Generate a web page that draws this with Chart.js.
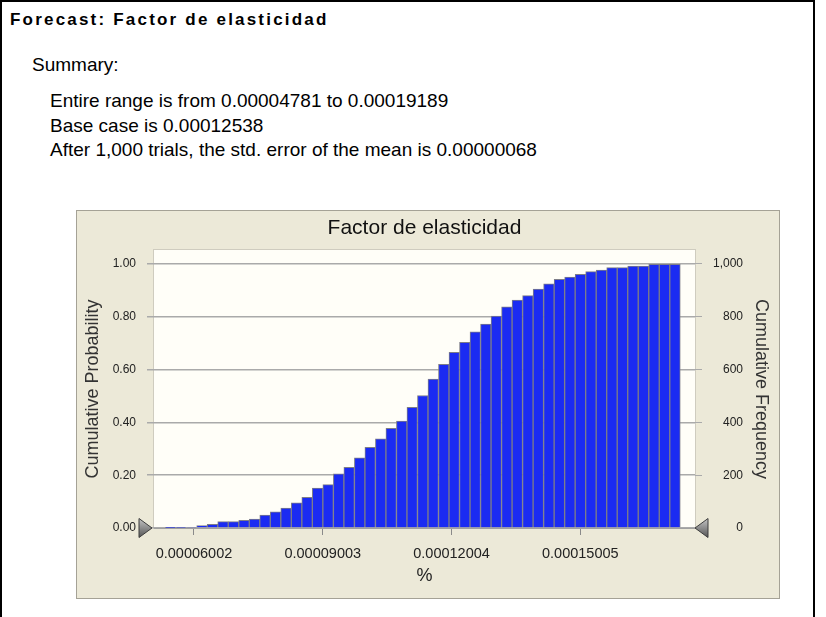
<!DOCTYPE html>
<html>
<head>
<meta charset="utf-8">
<title>Forecast: Factor de elasticidad</title>
<script src="https://cdn.jsdelivr.net/npm/chart.js@4.4.1/dist/chart.umd.min.js"></script>
<style>
  body { margin: 0; background: #fff; font-family: "Liberation Sans", Arial, sans-serif; }
  .frame { position: absolute; left: 0; top: 0; width: 811px; height: 640px; border: 2px solid #000; }
  .txt { position: absolute; white-space: nowrap; color: #000; font-size: 19px; line-height: 19px; }
  .heading { left: 10px; top: 11px; font-size: 17px; line-height: 17px; font-weight: bold; letter-spacing: 2.2px; }
  .chart-box { position: absolute; left: 76px; top: 210px; width: 702px; height: 387px;
               border: 1px solid #a5a296; background: #ece9d8; }
  .chart-box canvas { position: absolute; left: 0; top: 0; }
</style>
</head>
<body>
<div class="frame"></div>
<div class="txt heading">Forecast: Factor de elasticidad</div>
<div class="txt" style="left:32px; top:55px;">Summary:</div>
<div class="txt" style="left:50px; top:91px;">Entire range is from 0.00004781 to 0.00019189</div>
<div class="txt" style="left:50px; top:116px;">Base case is 0.00012538</div>
<div class="txt" style="left:50px; top:140px;">After 1,000 trials, the std. error of the mean is 0.00000068</div>

<div class="chart-box">
  <canvas id="forecastChart" width="702" height="387"></canvas>
</div>

<script>
// histogram bins (value of the forecast, %)
const binStart = 0.0000533;
const binWidth = 0.00000245;

// cumulative probability of each bin, 1,000 trials
const cumProb = [
  0.001, 0.002, 0.003, 0.009, 0.014, 0.024, 0.024, 0.029, 0.034, 0.049,
  0.061, 0.075, 0.095, 0.116, 0.151, 0.164, 0.205, 0.230, 0.266, 0.306,
  0.338, 0.378, 0.405, 0.457, 0.502, 0.564, 0.620, 0.665, 0.703, 0.743,
  0.772, 0.803, 0.838, 0.863, 0.880, 0.905, 0.925, 0.942, 0.950, 0.961,
  0.971, 0.977, 0.986, 0.986, 0.992, 0.992, 0.999, 0.999, 0.999
];

// axis ticks
const xTickValues = [0.00006002, 0.00009003, 0.00012004, 0.00015005];
const xTickLabels = ['0.00006002', '0.00009003', '0.00012004', '0.00015005'];
const probTicks = [0, 0.2, 0.4, 0.6, 0.8, 1.0];
const freqTicks = [0, 200, 400, 600, 800, 1000];
const trials = 1000;

const binMids = cumProb.map((p, i) => binStart + (i + 0.5) * binWidth);

Chart.defaults.font.family = '"Liberation Sans", Arial, sans-serif';
Chart.defaults.color = '#222';

// draws a grey certainty grabber triangle pointing at (tipX, tipY)
function drawGrabber(ctx, tipX, tipY, dir) {
  const w = 13, h = 9.5;
  const baseX = tipX - dir * w;
  const grad = ctx.createLinearGradient(0, tipY - h, 0, tipY + h);
  grad.addColorStop(0, '#c4c4c4');
  grad.addColorStop(1, '#555');
  ctx.beginPath();
  ctx.moveTo(tipX, tipY);
  ctx.lineTo(baseX, tipY - h);
  ctx.lineTo(baseX, tipY + h);
  ctx.closePath();
  ctx.fillStyle = grad;
  ctx.fill();
  ctx.strokeStyle = '#3c3c3c';
  ctx.lineWidth = 1;
  ctx.stroke();
}

// plot background and the grabbers on the base line
const plotFrame = {
  id: 'plotFrame',
  beforeDraw(chart) {
    const {ctx, chartArea: a} = chart;
    ctx.save();
    ctx.fillStyle = '#fffef8';
    ctx.fillRect(a.left, a.top, a.right - a.left, a.bottom - a.top);
    ctx.strokeStyle = '#cfccbf';
    ctx.lineWidth = 1;
    ctx.strokeRect(a.left - 0.5, a.top - 0.5, a.right - a.left + 1, a.bottom - a.top + 1);
    ctx.restore();
  },
  afterDraw(chart) {
    const {ctx, chartArea: a, scales} = chart;
    const y0 = scales.yProb.getPixelForValue(0);
    ctx.save();
    drawGrabber(ctx, a.left - 2, y0, 1);
    drawGrabber(ctx, a.right, y0, -1);
    ctx.restore();
  }
};

const ctx = document.getElementById('forecastChart');
new Chart(ctx, {
  type: 'bar',
  data: {
    datasets: [{
      label: 'Cumulative Probability',
      data: cumProb.map((p, i) => ({x: binMids[i], y: p})),
      xAxisID: 'x',
      yAxisID: 'yProb',
      backgroundColor: '#1b2bf2',
      borderColor: '#7d7d88',
      borderWidth: 1,
      barPercentage: 1,
      categoryPercentage: 1
    }]
  },
  plugins: [plotFrame],
  options: {
    responsive: false,
    animation: false,
    layout: { padding: { left: 0, right: 36, top: 0, bottom: 0 } },
    plugins: {
      legend: { display: false },
      tooltip: { enabled: false },
      title: {
        display: true,
        text: 'Factor de elasticidad',
        fullSize: false,
        color: '#111',
        font: { size: 21, weight: 'normal' },
        padding: { top: 4.5, bottom: 9.3 }
      }
    },
    scales: {
      x: {
        type: 'linear',
        position: 'bottom',
        min: 0.000050698,
        max: 0.00017678,
        offset: false,
        grid: { drawOnChartArea: false, offset: false, tickLength: 7, color: '#8a8a8a' },
        border: { color: '#a0a0a0' },
        afterBuildTicks: s => { s.ticks = xTickValues.map(v => ({value: v})); },
        ticks: {
          autoSkip: false,
          maxRotation: 0,
          padding: 10,
          font: { size: 14.5 },
          callback: (v, i) => xTickLabels[i]
        },
        title: { display: true, text: '%', color: '#222', font: { size: 18 }, padding: { top: 0, bottom: 11 } },
        afterFit: s => { s.height = 70; }
      },
      yProb: {
        axis: 'y',
        type: 'linear',
        position: 'left',
        min: 0,
        max: 1.053,
        grid: { color: '#aaaaaa', lineWidth: 1.5, tickLength: 7 },
        border: { display: false },
        afterBuildTicks: s => { s.ticks = probTicks.map(v => ({value: v})); },
        ticks: { padding: 11, font: { size: 12 }, callback: v => v.toFixed(2) },
        title: { display: true, text: 'Cumulative Probability', color: '#333', font: { size: 18 }, padding: { top: 5 } },
        afterFit: s => { s.width = 77; }
      },
      yFreq: {
        axis: 'y',
        type: 'linear',
        position: 'right',
        min: 0,
        max: trials * 1.053,
        grid: { drawOnChartArea: false, color: '#aaaaaa', tickLength: 7 },
        border: { display: false },
        afterBuildTicks: s => { s.ticks = freqTicks.map(v => ({value: v})); },
        ticks: { crossAlign: 'far', font: { size: 12 }, callback: v => v.toLocaleString('en-US') },
        title: { display: true, text: 'Cumulative Frequency', color: '#333', font: { size: 18 }, padding: { top: -28.8 } },
        afterFit: s => { s.width = 48; }
      }
    }
  }
});
</script>
</body>
</html>
